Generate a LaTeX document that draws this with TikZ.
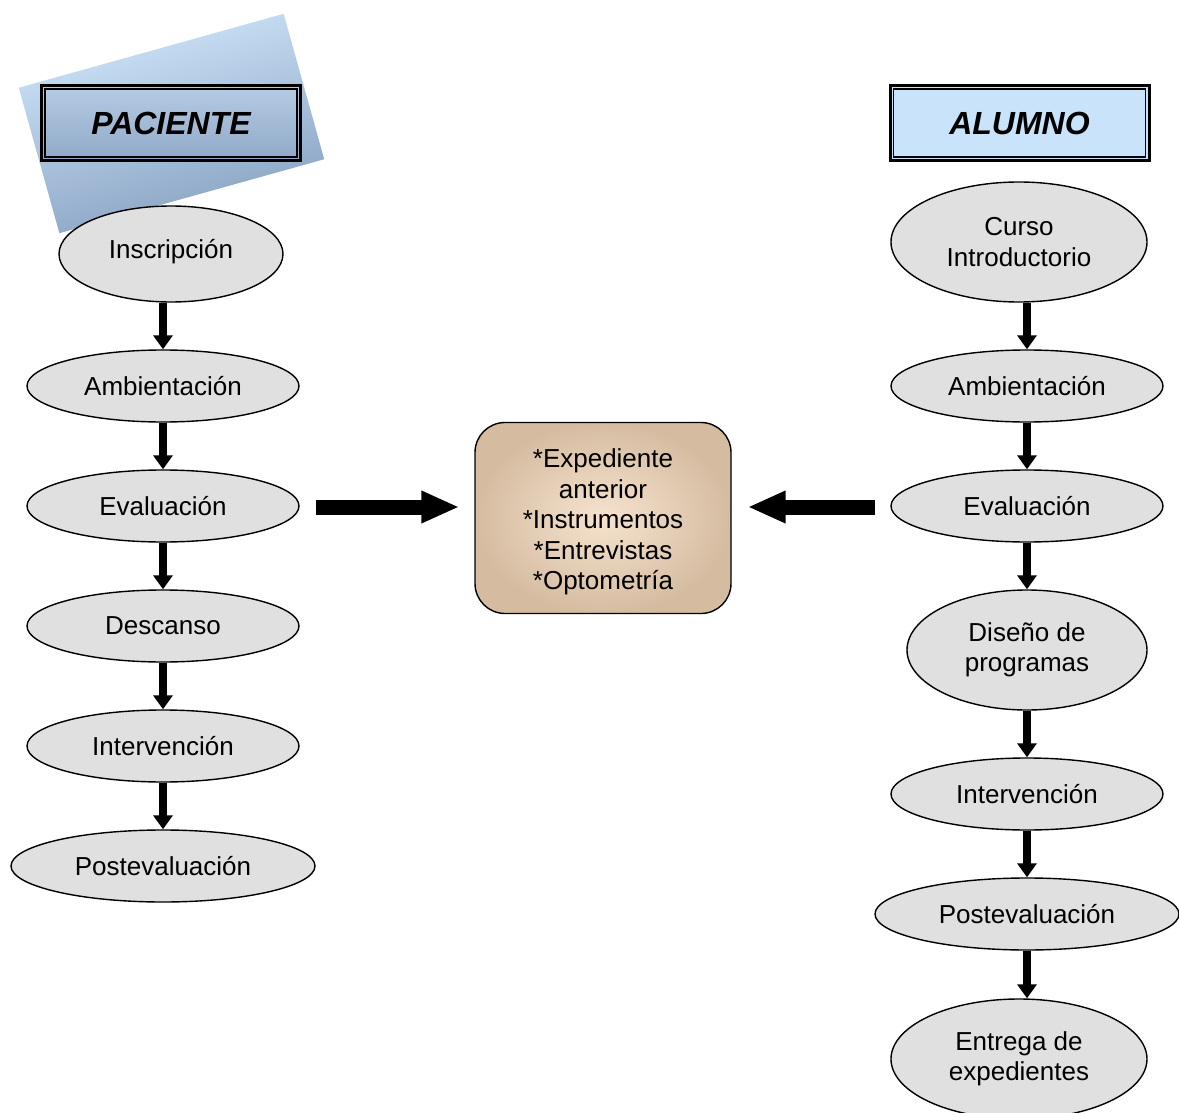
\documentclass[tikz,border=0pt]{standalone}
\usepackage{fontspec}
\setmainfont{Liberation Sans}
\usetikzlibrary{arrows.meta,shapes.geometric}
\definecolor{ellfill}{HTML}{E0E0E0}
\definecolor{boxin}{HTML}{F6E3CE}
\definecolor{boxout}{HTML}{D5BCA1}
\definecolor{tiltA}{HTML}{D0E6FB}
\definecolor{tiltB}{HTML}{859FBF}
\definecolor{pacA}{HTML}{B6CCE4}
\definecolor{pacB}{HTML}{90A9C7}
\definecolor{aluF}{HTML}{C9E3FB}
\begin{document}
\begin{tikzpicture}[x=1pt,y=-1pt,
  font=\fontsize{26}{30.5}\selectfont,
  proc/.style={ellipse, draw=black, line width=1.4pt, fill=ellfill, inner sep=0pt, align=center},
  downarrow/.style={line width=8.5pt, -{Triangle[width=19pt,length=14pt]}},
  sidearrow/.style={line width=15pt, -{Triangle[width=30pt,length=38pt]}},
  titlebox/.style={draw=black, line width=3pt, minimum width=259pt, minimum height=75pt, inner sep=0pt,
    font=\fontsize{32}{36}\selectfont\bfseries\itshape},
  innerframe/.style={draw=black, line width=1.5pt}]
\useasboundingbox (0,0) rectangle (1179,1113);

% tilted background behind PACIENTE
\begin{scope}[shift={(171.5,123.5)}, rotate=15.6]
  \shade[top color=tiltA, bottom color=tiltB, shading angle=15.6] (-137.5,-75.5) rectangle (137.5,75.5);
\end{scope}

% titles
\node[titlebox, top color=pacA, bottom color=pacB] (pac) at (171,123) {PACIENTE};
\draw[innerframe] ([shift={(5,5)}]pac.north west) rectangle ([shift={(-5,-5)}]pac.south east);
\node[titlebox, fill=aluF] (alu) at (1019.5,123) {ALUMNO};
\draw[innerframe] ([shift={(5,5)}]alu.north west) rectangle ([shift={(-5,-5)}]alu.south east);

% left column
\node[proc, minimum width=224pt, minimum height=96pt] (l1) at (171,254) {\raisebox{10pt}{Inscripción}};
\node[proc, minimum width=272pt, minimum height=72pt] (l2) at (163,386) {Ambientación};
\node[proc, minimum width=272pt, minimum height=72pt] (l3) at (163,506) {Evaluación};
\node[proc, minimum width=272pt, minimum height=72pt] (l4) at (163,626) {Descanso};
\node[proc, minimum width=272pt, minimum height=72pt] (l5) at (163,746) {Intervención};
\node[proc, minimum width=304pt, minimum height=72pt] (l6) at (163,866) {Postevaluación};

% right column
\node[proc, minimum width=256pt, minimum height=120pt] (r1) at (1019,242) {Curso\\Introductorio};
\node[proc, minimum width=272pt, minimum height=72pt] (r2) at (1027,386) {Ambientación};
\node[proc, minimum width=272pt, minimum height=72pt] (r3) at (1027,506) {Evaluación};
\node[proc, minimum width=240pt, minimum height=120pt] (r4) at (1027,650) {Diseño de\\programas};
\node[proc, minimum width=272pt, minimum height=72pt] (r5) at (1027,794) {Intervención};
\node[proc, minimum width=304pt, minimum height=72pt] (r6) at (1027,914) {Postevaluación};
\node[proc, minimum width=256pt, minimum height=120pt] (r7) at (1019,1059) {Entrega de\\expedientes};

% centre box
\node[draw=black, line width=1.4pt, rounded corners=30pt, minimum width=256pt, minimum height=191pt,
  inner color=boxin, outer color=boxout, align=center] (box) at (603,518)
  {\rule{0pt}{27pt}*Expediente\\anterior\\*Instrumentos\\*Entrevistas\\*Optometría};

% vertical arrows
\draw[downarrow] (l2.north |- l1.south) -- (l2.north);
\draw[downarrow] (l2.south) -- (l3.north);
\draw[downarrow] (l3.south) -- (l4.north);
\draw[downarrow] (l4.south) -- (l5.north);
\draw[downarrow] (l5.south) -- (l6.north);

\draw[downarrow] (r2.north |- r1.south) -- (r2.north);
\draw[downarrow] (r2.south) -- (r3.north);
\draw[downarrow] (r3.south) -- (r4.north);
\draw[downarrow] (r4.south) -- (r5.north);
\draw[downarrow] (r5.south) -- (r6.north);
\draw[downarrow] (r6.south) -- (r6.south |- r7.north);

% horizontal arrows
\draw[sidearrow, shorten <=16pt, shorten >=15pt] ([yshift=-1pt]l3.east) -- ([yshift=-1pt]l3.east -| box.west);
\draw[sidearrow, shorten <=15pt, shorten >=16pt] ([yshift=-1pt]r3.west) -- ([yshift=-1pt]r3.west -| box.east);
\end{tikzpicture}
\end{document}
